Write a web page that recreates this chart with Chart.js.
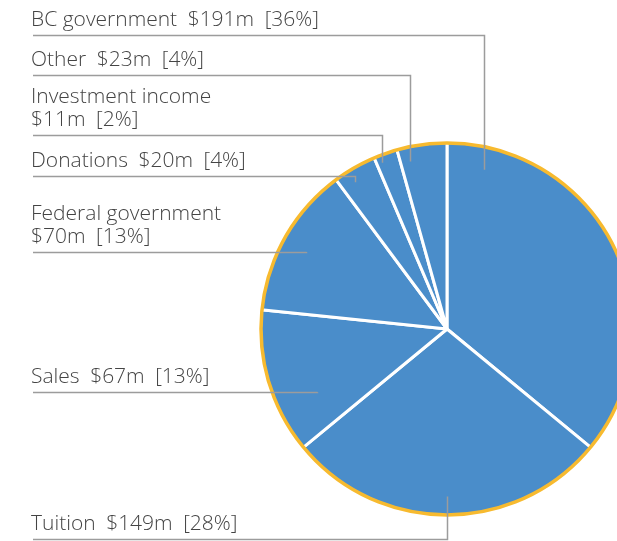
<!DOCTYPE html>
<html>
<head>
<meta charset="utf-8">
<script src="https://cdn.jsdelivr.net/npm/chart.js@4"></script>
<style>
  html, body { margin: 0; padding: 0; background: #fff; overflow: hidden; }
  #wrap { position: relative; width: 660px; height: 541px; }
</style>
</head>
<body>
<div id="wrap"><canvas id="c"></canvas></div>
<script>
// ---- data ----
const categories = ['BC government', 'Tuition', 'Sales', 'Federal government', 'Donations', 'Investment income', 'Other'];
const amounts = [191, 149, 67, 70, 20, 11, 23];           // $ millions
const percents = [36, 28, 13, 13, 4, 2, 4];               // shares as printed
const labelBreak = [false, false, false, true, false, true, false]; // amount on second line

// ---- layout of the callout labels (positions only, not data) ----
const calloutLineY = [35, 539, 392, 252, 176, 135, 75];
const anchorT = [0.10, 0.50, 0.30, 0.48, 0.33, 0.22, 0.20];   // position within slice
const anchorR = [0.876, 0.898, 0.777, 0.86, 0.93, 0.957, 0.92]; // fraction of radius

const BLUE = '#4A8DCA';
const ORANGE = '#F7BA2F';
const TEXT = '#444444';
const LEADER = '#9c9c9c';
const FONT = '300 21px "Open Sans", "Segoe UI", sans-serif';

const callouts = {
  id: 'callouts',
  afterDatasetsDraw(chart) {
    const ctx = chart.ctx;
    const arcs = chart.getDatasetMeta(0).data;
    const cx = arcs[0].x, cy = arcs[0].y, R = arcs[0].outerRadius;
    // orange rim
    ctx.save();
    ctx.beginPath();
    ctx.arc(cx, cy, R - 0.5, 0, Math.PI * 2);
    ctx.strokeStyle = ORANGE;
    ctx.lineWidth = 3.5;
    ctx.stroke();
    ctx.restore();

    ctx.save();
    ctx.font = FONT;
    ctx.fillStyle = TEXT;
    ctx.textBaseline = 'alphabetic';
    ctx.textAlign = 'left';
    arcs.forEach((arc, i) => {
      const a = arc.startAngle + (arc.endAngle - arc.startAngle) * anchorT[i];
      const r = arc.outerRadius * anchorR[i];
      const ax = arc.x + r * Math.cos(a);
      const ay = arc.y + r * Math.sin(a);
      const ly = calloutLineY[i];
      ctx.beginPath();
      ctx.moveTo(33, ly + 0.5);
      ctx.lineTo(Math.round(ax) + 0.5, ly + 0.5);
      ctx.lineTo(Math.round(ax) + 0.5, ay);
      ctx.strokeStyle = LEADER;
      ctx.lineWidth = 1.5;
      ctx.stroke();

      const amt = '$' + amounts[i] + 'm\u2002[' + percents[i] + '%]';
      const base = ly - 9;
      if (labelBreak[i]) {
        ctx.fillText(categories[i], 31, base - 23);
        ctx.fillText(amt, 31, base);
      } else {
        ctx.fillText(categories[i] + '\u2002' + amt, 31, base);
      }
    });
    ctx.restore();
  }
};

new Chart(document.getElementById('c'), {
  type: 'pie',
  data: {
    labels: categories,
    datasets: [{
      data: amounts,
      backgroundColor: BLUE,
      borderColor: '#ffffff',
      borderWidth: 3,
      hoverOffset: 0
    }]
  },
  options: {
    responsive: true,
    maintainAspectRatio: false,
    animation: false,
    events: [],
    layout: { padding: { left: 259, right: 25, top: 141, bottom: 24 } },
    plugins: { legend: { display: false }, tooltip: { enabled: false } }
  },
  plugins: [callouts]
});
</script>
</body>
</html>
